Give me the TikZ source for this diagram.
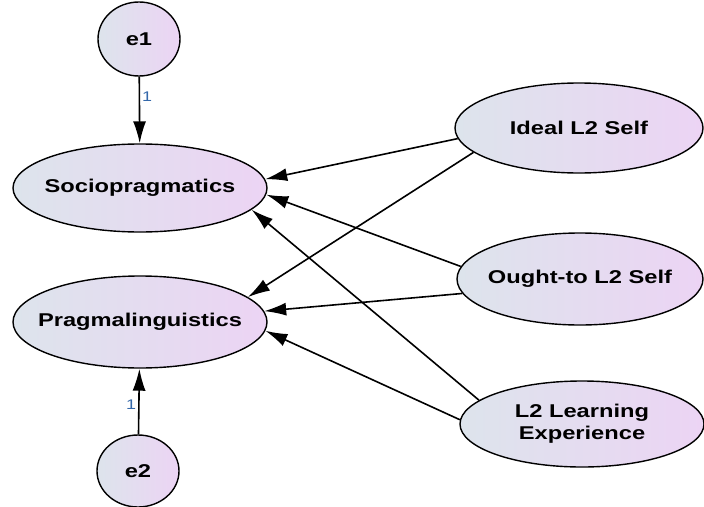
\documentclass[tikz,border=0pt]{standalone}
\usepackage{fontspec}
\setsansfont[FakeStretch=1.28]{Liberation Sans}
\usetikzlibrary{shapes.geometric,arrows.meta}
\definecolor{fillLeft}{RGB}{221,228,236}
\definecolor{fillRight}{RGB}{236,212,244}
\definecolor{weightBlue}{RGB}{52,104,170}
\tikzstyle{latentNode}=[draw,ellipse,line width=1.4pt,inner xsep=-30pt,inner ysep=0pt,left color=fillLeft,right color=fillRight,align=center,font=\sffamily\bfseries\fontsize{18.5}{22}\selectfont]
\tikzstyle{pathArrow}=[-{Latex[length=22pt,width=13pt]}, line width=1.6pt]
\tikzstyle{weightLabel}=[text=weightBlue,font=\sffamily\fontsize{14}{16}\selectfont,inner sep=2pt]

\begin{document}
\begin{tikzpicture}[x=1pt,y=-1pt]
	\useasboundingbox (0,0) rectangle (704,506);

	\node[latentNode, inner sep=0pt, minimum width=82pt, minimum height=74pt] (e1) at (139,39) {e1};
	\node[latentNode, inner sep=0pt, minimum width=82pt, minimum height=72pt] (e2) at (138,471) {e2};

	\node[latentNode, minimum width=254pt, minimum height=88pt] (soc) at (140,188) {Sociopragmatics};
	\node[latentNode, minimum width=254pt, minimum height=92pt] (prag) at (140,322) {Pragmalinguistics};

	\node[latentNode, minimum width=248pt, minimum height=90pt] (ideal) at (579,128) {Ideal L2 Self};
	\node[latentNode, minimum width=246pt, minimum height=92pt] (ought) at (580,279) {Ought-to L2 Self};
	\node[latentNode, minimum width=244pt, minimum height=86pt] (exp) at (582,424) {L2 Learning\\Experience};

	\draw[pathArrow] (e1) -- node[weightLabel, pos=0.3, right] {1} (soc);
	\draw[pathArrow] (e2) -- node[weightLabel, pos=0.45, left] {1} (prag);

	\draw[pathArrow] (ideal.185) -- (soc.4);
	\draw[pathArrow] (ideal.193) -- (prag.13);
	\draw[pathArrow] (ought.174) -- (soc.357);
	\draw[pathArrow] (ought.187) -- (prag.5);
	\draw[pathArrow] (exp.167) -- (soc.349);
	\draw[pathArrow] (exp.178) -- (prag.356);
\end{tikzpicture}
\end{document}
